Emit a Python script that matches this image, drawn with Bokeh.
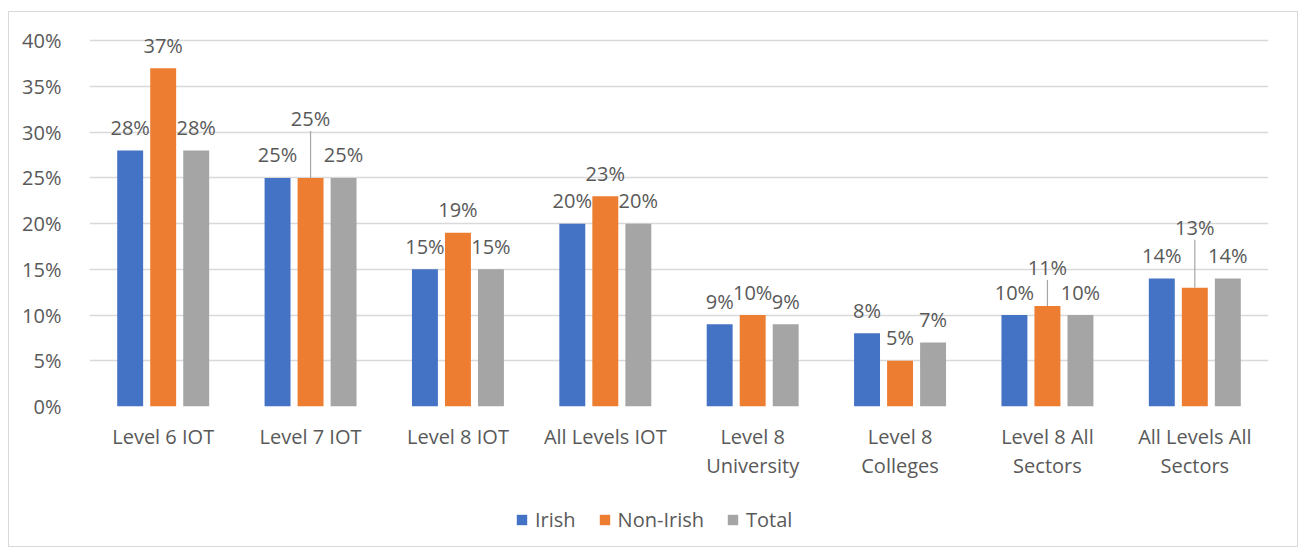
from bokeh.plotting import figure
from bokeh.layouts import column
from bokeh.models import (ColumnDataSource, FactorRange, Range1d, FixedTicker,
                          PrintfTickFormatter, Legend, LegendItem)
from bokeh.transform import dodge
from bokeh.core.properties import value
from bokeh.embed import file_html
from bokeh.resources import INLINE

# ---- data ----
categories = ["Level 6 IOT", "Level 7 IOT", "Level 8 IOT", "All Levels IOT",
              "Level 8\nUniversity", "Level 8\nColleges",
              "Level 8 All\nSectors", "All Levels All\nSectors"]
irish = [28, 25, 15, 20, 9, 8, 10, 14]
non_irish = [37, 25, 19, 23, 10, 5, 11, 13]
total = [28, 25, 15, 20, 9, 7, 10, 14]
series_names = ["Irish", "Non-Irish", "Total"]
y_ticks = [0, 5, 10, 15, 20, 25, 30, 35, 40]

# ---- style / layout ----
colors = ["#4472C4", "#ED7D31", "#A5A5A5"]
text_color = "#595959"
grid_color = "#D9D9D9"
font = "Open Sans"
fsize = "20px"
W, H = 1288, 474
ML, MR, MT, MB = 80, 29, 10, 80
LEG_H = 60
frame_h = H - MT - MB
y_view = 42                    # view extends a little above the 40% gridline
ppu = frame_h / y_view         # pixels per percentage point
label_gap = 23                 # px between bar top and label centre
# extra lift (px) for labels pushed upward with leader lines, per series
label_lift = [
    [0, 0, 0, 0, 0, 0, 0, 0],
    [0, 36, 0, 0, 0, 0, 15, 37],
    [0, 0, 0, 0, 0, 0, 0, 0],
]
offsets = [-0.224, 0.0, 0.224]
bar_w = 0.176

p = figure(x_range=FactorRange(*categories, range_padding=0),
           y_range=Range1d(0, y_view),
           width=W, height=H,
           min_border_left=ML, min_border_right=MR,
           min_border_top=MT, min_border_bottom=MB,
           output_backend="svg", toolbar_location=None,
           background_fill_color="white", border_fill_color="white")
p.outline_line_color = None

series = [irish, non_irish, total]
for k, vals in enumerate(series):
    lab_y = [v + (label_gap + label_lift[k][i]) / ppu for i, v in enumerate(vals)]
    src = ColumnDataSource(dict(cat=categories, val=vals,
                                lab=[f"{v}%" for v in vals], lab_y=lab_y))
    p.vbar(x=dodge("cat", offsets[k], range=p.x_range), top="val", width=bar_w,
           source=src, fill_color=colors[k], line_color=None)
    # leader lines
    lx, ly0, ly1 = [], [], []
    for i, v in enumerate(vals):
        if label_lift[k][i] > 0:
            lx.append(categories[i])
            ly0.append(v)
            ly1.append(lab_y[i] - 12 / ppu)
    if lx:
        lsrc = ColumnDataSource(dict(cat=lx, y0=ly0, y1=ly1))
        p.segment(x0=dodge("cat", offsets[k], range=p.x_range), y0="y0",
                  x1=dodge("cat", offsets[k], range=p.x_range), y1="y1",
                  source=lsrc, line_color="#A6A6A6", line_width=1.2)
    p.text(x=dodge("cat", offsets[k], range=p.x_range), y="lab_y", text="lab",
           source=src, text_font=value(font), text_font_size=fsize,
           text_color=text_color, text_align="center", text_baseline="middle")

# axes
p.yaxis.ticker = FixedTicker(ticks=y_ticks)
p.yaxis.formatter = PrintfTickFormatter(format="%d%%")
p.yaxis.axis_line_color = None
p.yaxis.major_tick_line_color = None
p.yaxis.minor_tick_line_color = None
p.yaxis.major_label_standoff = 22
p.xaxis.axis_line_color = None
p.xaxis.major_tick_line_color = None
p.xaxis.minor_tick_line_color = None
p.xaxis.major_label_standoff = 10
p.xaxis.major_label_text_line_height = 1.1
for ax in (p.xaxis, p.yaxis):
    ax.major_label_text_font = font
    ax.major_label_text_font_size = fsize
    ax.major_label_text_color = text_color
p.xgrid.grid_line_color = None
p.ygrid.grid_line_color = grid_color
p.ygrid.grid_line_width = 1.5
p.ygrid.ticker = FixedTicker(ticks=y_ticks)

# ---- legend strip (separate figure so the legend is not clipped) ----
lf = figure(width=W, height=LEG_H, x_range=Range1d(0, 10), y_range=Range1d(0, 10),
            x_axis_type=None, y_axis_type=None, min_border=0,
            output_backend="svg", toolbar_location=None,
            background_fill_color="white", border_fill_color="white")
lf.outline_line_color = None
lf.xgrid.grid_line_color = None
lf.ygrid.grid_line_color = None
# legend proxies placed far outside the visible range
proxies = [lf.vbar(x=[-100], bottom=[-100], top=[-99], width=1,
                   fill_color=colors[k], line_color=None)
           for k in range(3)]
legend = Legend(items=[LegendItem(label=series_names[k], renderers=[proxies[k]])
                       for k in range(3)],
                orientation="horizontal", location=(426, 13),
                glyph_width=13, glyph_height=13, label_standoff=7, spacing=22,
                padding=0, margin=0, border_line_color=None,
                background_fill_alpha=0,
                label_text_font=font, label_text_font_size=fsize,
                label_text_color=text_color)
lf.add_layout(legend, "center")

layout = column(p, lf, spacing=0,
                styles={"border": "1px solid #D9D9D9", "margin-top": "11px",
                        "margin-left": "8px"})

open("out.html", "w").write(file_html(layout, INLINE))
